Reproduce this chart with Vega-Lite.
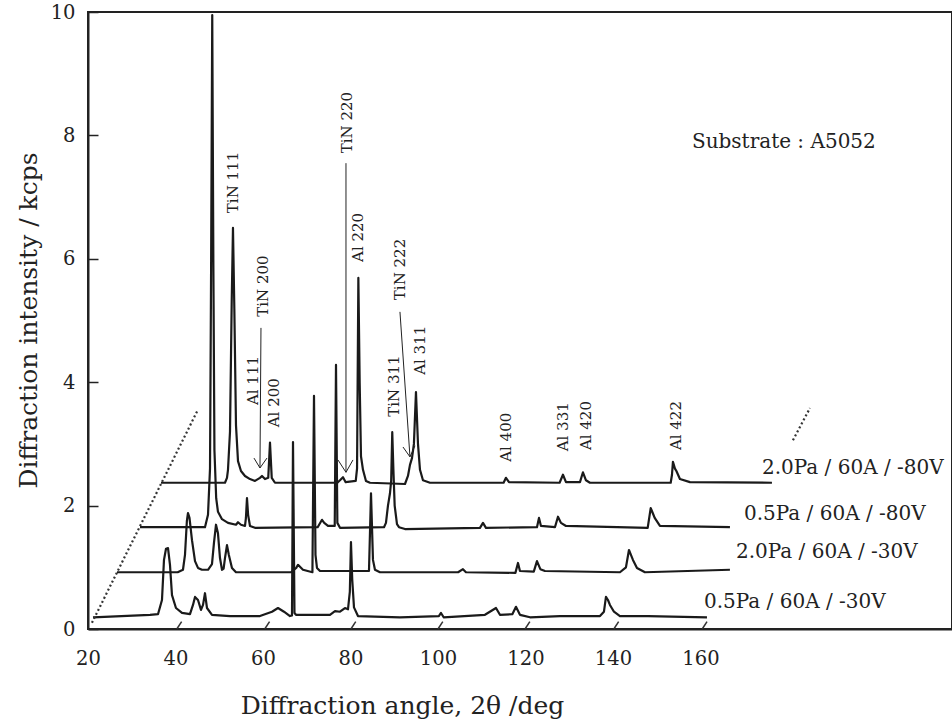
{
  "$schema": "https://vega.github.io/schema/vega-lite/v6.json",
  "width": 864,
  "height": 617,
  "autosize": {"type": "none"},
  "padding": {"left": 88, "top": 12, "right": 0, "bottom": 95},
  "background": "white",
  "config": {
    "view": {"stroke": "#222", "strokeWidth": 2},
    "axis": {"grid": false}
  },
  "datasets": {
    "traces": [
      {"s":"0.5Pa / 60A / -30V","a":21.14,"i":0.19},{"s":"0.5Pa / 60A / -30V","a":34.17,"i":0.23},{"s":"0.5Pa / 60A / -30V","a":36.0,"i":0.24},{"s":"0.5Pa / 60A / -30V","a":36.91,"i":0.47},{"s":"0.5Pa / 60A / -30V","a":37.37,"i":1.12},{"s":"0.5Pa / 60A / -30V","a":37.83,"i":1.3},{"s":"0.5Pa / 60A / -30V","a":38.29,"i":1.31},{"s":"0.5Pa / 60A / -30V","a":38.74,"i":1.04},{"s":"0.5Pa / 60A / -30V","a":39.2,"i":0.55},{"s":"0.5Pa / 60A / -30V","a":40.11,"i":0.34},{"s":"0.5Pa / 60A / -30V","a":41.49,"i":0.26},{"s":"0.5Pa / 60A / -30V","a":43.31,"i":0.24},{"s":"0.5Pa / 60A / -30V","a":44.0,"i":0.39},{"s":"0.5Pa / 60A / -30V","a":44.46,"i":0.52},{"s":"0.5Pa / 60A / -30V","a":45.14,"i":0.47},{"s":"0.5Pa / 60A / -30V","a":45.83,"i":0.31},{"s":"0.5Pa / 60A / -30V","a":46.29,"i":0.39},{"s":"0.5Pa / 60A / -30V","a":46.74,"i":0.58},{"s":"0.5Pa / 60A / -30V","a":47.2,"i":0.34},{"s":"0.5Pa / 60A / -30V","a":48.34,"i":0.23},{"s":"0.5Pa / 60A / -30V","a":52.46,"i":0.21},{"s":"0.5Pa / 60A / -30V","a":59.31,"i":0.21},{"s":"0.5Pa / 60A / -30V","a":62.06,"i":0.28},{"s":"0.5Pa / 60A / -30V","a":63.43,"i":0.34},{"s":"0.5Pa / 60A / -30V","a":64.8,"i":0.28},{"s":"0.5Pa / 60A / -30V","a":66.17,"i":0.21},{"s":"0.5Pa / 60A / -30V","a":66.63,"i":0.22},{"s":"0.5Pa / 60A / -30V","a":66.86,"i":3.03},{"s":"0.5Pa / 60A / -30V","a":67.2,"i":0.26},{"s":"0.5Pa / 60A / -30V","a":67.54,"i":0.23},{"s":"0.5Pa / 60A / -30V","a":75.31,"i":0.23},{"s":"0.5Pa / 60A / -30V","a":76.46,"i":0.29},{"s":"0.5Pa / 60A / -30V","a":77.6,"i":0.28},{"s":"0.5Pa / 60A / -30V","a":78.74,"i":0.34},{"s":"0.5Pa / 60A / -30V","a":79.43,"i":0.32},{"s":"0.5Pa / 60A / -30V","a":79.85,"i":0.6},{"s":"0.5Pa / 60A / -30V","a":80.11,"i":1.41},{"s":"0.5Pa / 60A / -30V","a":80.4,"i":0.8},{"s":"0.5Pa / 60A / -30V","a":80.8,"i":0.35},{"s":"0.5Pa / 60A / -30V","a":81.71,"i":0.21},{"s":"0.5Pa / 60A / -30V","a":91.31,"i":0.19},{"s":"0.5Pa / 60A / -30V","a":100.2,"i":0.21},{"s":"0.5Pa / 60A / -30V","a":100.69,"i":0.26},{"s":"0.5Pa / 60A / -30V","a":101.3,"i":0.19},{"s":"0.5Pa / 60A / -30V","a":110.74,"i":0.23},{"s":"0.5Pa / 60A / -30V","a":113.26,"i":0.34},{"s":"0.5Pa / 60A / -30V","a":114.17,"i":0.23},{"s":"0.5Pa / 60A / -30V","a":117.0,"i":0.24},{"s":"0.5Pa / 60A / -30V","a":117.83,"i":0.36},{"s":"0.5Pa / 60A / -30V","a":118.74,"i":0.23},{"s":"0.5Pa / 60A / -30V","a":121.03,"i":0.19},{"s":"0.5Pa / 60A / -30V","a":127.89,"i":0.21},{"s":"0.5Pa / 60A / -30V","a":137.03,"i":0.21},{"s":"0.5Pa / 60A / -30V","a":137.94,"i":0.28},{"s":"0.5Pa / 60A / -30V","a":138.4,"i":0.52},{"s":"0.5Pa / 60A / -30V","a":138.86,"i":0.47},{"s":"0.5Pa / 60A / -30V","a":139.31,"i":0.39},{"s":"0.5Pa / 60A / -30V","a":140.23,"i":0.28},{"s":"0.5Pa / 60A / -30V","a":141.6,"i":0.21},{"s":"0.5Pa / 60A / -30V","a":148.0,"i":0.21},{"s":"0.5Pa / 60A / -30V","a":161.49,"i":0.19},

      {"s":"2.0Pa / 60A / -30V","a":26.63,"i":0.92},{"s":"2.0Pa / 60A / -30V","a":40.5,"i":0.92},{"s":"2.0Pa / 60A / -30V","a":41.71,"i":0.96},{"s":"2.0Pa / 60A / -30V","a":42.17,"i":1.2},{"s":"2.0Pa / 60A / -30V","a":42.6,"i":1.75},{"s":"2.0Pa / 60A / -30V","a":42.86,"i":1.88},{"s":"2.0Pa / 60A / -30V","a":43.2,"i":1.8},{"s":"2.0Pa / 60A / -30V","a":43.77,"i":1.44},{"s":"2.0Pa / 60A / -30V","a":44.46,"i":1.1},{"s":"2.0Pa / 60A / -30V","a":45.14,"i":0.99},{"s":"2.0Pa / 60A / -30V","a":46.06,"i":0.96},{"s":"2.0Pa / 60A / -30V","a":47.43,"i":0.96},{"s":"2.0Pa / 60A / -30V","a":48.34,"i":1.05},{"s":"2.0Pa / 60A / -30V","a":48.8,"i":1.4},{"s":"2.0Pa / 60A / -30V","a":49.26,"i":1.69},{"s":"2.0Pa / 60A / -30V","a":49.71,"i":1.55},{"s":"2.0Pa / 60A / -30V","a":50.17,"i":1.15},{"s":"2.0Pa / 60A / -30V","a":50.63,"i":0.96},{"s":"2.0Pa / 60A / -30V","a":51.0,"i":0.98},{"s":"2.0Pa / 60A / -30V","a":51.31,"i":1.15},{"s":"2.0Pa / 60A / -30V","a":51.77,"i":1.36},{"s":"2.0Pa / 60A / -30V","a":52.2,"i":1.2},{"s":"2.0Pa / 60A / -30V","a":52.91,"i":0.99},{"s":"2.0Pa / 60A / -30V","a":53.83,"i":0.92},{"s":"2.0Pa / 60A / -30V","a":66.4,"i":0.92},{"s":"2.0Pa / 60A / -30V","a":67.6,"i":0.99},{"s":"2.0Pa / 60A / -30V","a":68.0,"i":1.04},{"s":"2.0Pa / 60A / -30V","a":69.14,"i":0.96},{"s":"2.0Pa / 60A / -30V","a":71.3,"i":0.92},{"s":"2.0Pa / 60A / -30V","a":71.66,"i":3.78},{"s":"2.0Pa / 60A / -30V","a":72.0,"i":1.2},{"s":"2.0Pa / 60A / -30V","a":72.34,"i":0.99},{"s":"2.0Pa / 60A / -30V","a":73.03,"i":0.94},{"s":"2.0Pa / 60A / -30V","a":84.23,"i":0.94},{"s":"2.0Pa / 60A / -30V","a":84.69,"i":2.2},{"s":"2.0Pa / 60A / -30V","a":85.14,"i":1.12},{"s":"2.0Pa / 60A / -30V","a":85.6,"i":0.96},{"s":"2.0Pa / 60A / -30V","a":86.74,"i":0.92},{"s":"2.0Pa / 60A / -30V","a":104.6,"i":0.92},{"s":"2.0Pa / 60A / -30V","a":105.71,"i":0.97},{"s":"2.0Pa / 60A / -30V","a":106.4,"i":0.92},{"s":"2.0Pa / 60A / -30V","a":117.7,"i":0.91},{"s":"2.0Pa / 60A / -30V","a":118.29,"i":1.07},{"s":"2.0Pa / 60A / -30V","a":118.74,"i":0.94},{"s":"2.0Pa / 60A / -30V","a":121.9,"i":0.93},{"s":"2.0Pa / 60A / -30V","a":122.63,"i":1.1},{"s":"2.0Pa / 60A / -30V","a":123.4,"i":0.97},{"s":"2.0Pa / 60A / -30V","a":124.46,"i":0.94},{"s":"2.0Pa / 60A / -30V","a":141.6,"i":0.92},{"s":"2.0Pa / 60A / -30V","a":142.97,"i":1.0},{"s":"2.0Pa / 60A / -30V","a":143.66,"i":1.28},{"s":"2.0Pa / 60A / -30V","a":144.11,"i":1.2},{"s":"2.0Pa / 60A / -30V","a":144.57,"i":1.12},{"s":"2.0Pa / 60A / -30V","a":145.49,"i":0.99},{"s":"2.0Pa / 60A / -30V","a":147.31,"i":0.92},{"s":"2.0Pa / 60A / -30V","a":166.74,"i":0.96},

      {"s":"0.5Pa / 60A / -80V","a":31.89,"i":1.65},{"s":"0.5Pa / 60A / -80V","a":46.74,"i":1.65},{"s":"0.5Pa / 60A / -80V","a":47.43,"i":1.85},{"s":"0.5Pa / 60A / -80V","a":47.89,"i":2.6},{"s":"0.5Pa / 60A / -80V","a":48.15,"i":6.0},{"s":"0.5Pa / 60A / -80V","a":48.4,"i":9.95},{"s":"0.5Pa / 60A / -80V","a":48.65,"i":6.0},{"s":"0.5Pa / 60A / -80V","a":48.9,"i":2.9},{"s":"0.5Pa / 60A / -80V","a":49.3,"i":2.12},{"s":"0.5Pa / 60A / -80V","a":49.71,"i":1.9},{"s":"0.5Pa / 60A / -80V","a":50.63,"i":1.78},{"s":"0.5Pa / 60A / -80V","a":52.0,"i":1.72},{"s":"0.5Pa / 60A / -80V","a":53.83,"i":1.69},{"s":"0.5Pa / 60A / -80V","a":54.29,"i":1.73},{"s":"0.5Pa / 60A / -80V","a":54.97,"i":1.69},{"s":"0.5Pa / 60A / -80V","a":55.89,"i":1.67},{"s":"0.5Pa / 60A / -80V","a":56.1,"i":1.8},{"s":"0.5Pa / 60A / -80V","a":56.34,"i":2.12},{"s":"0.5Pa / 60A / -80V","a":56.6,"i":1.85},{"s":"0.5Pa / 60A / -80V","a":57.03,"i":1.67},{"s":"0.5Pa / 60A / -80V","a":58.17,"i":1.64},{"s":"0.5Pa / 60A / -80V","a":72.5,"i":1.65},{"s":"0.5Pa / 60A / -80V","a":73.49,"i":1.77},{"s":"0.5Pa / 60A / -80V","a":74.0,"i":1.72},{"s":"0.5Pa / 60A / -80V","a":74.86,"i":1.67},{"s":"0.5Pa / 60A / -80V","a":76.4,"i":1.67},{"s":"0.5Pa / 60A / -80V","a":76.69,"i":4.28},{"s":"0.5Pa / 60A / -80V","a":77.0,"i":1.72},{"s":"0.5Pa / 60A / -80V","a":77.6,"i":1.64},{"s":"0.5Pa / 60A / -80V","a":87.66,"i":1.65},{"s":"0.5Pa / 60A / -80V","a":88.11,"i":1.72},{"s":"0.5Pa / 60A / -80V","a":88.57,"i":2.0},{"s":"0.5Pa / 60A / -80V","a":89.03,"i":2.2},{"s":"0.5Pa / 60A / -80V","a":89.3,"i":2.4},{"s":"0.5Pa / 60A / -80V","a":89.55,"i":3.19},{"s":"0.5Pa / 60A / -80V","a":89.8,"i":2.6},{"s":"0.5Pa / 60A / -80V","a":90.1,"i":2.0},{"s":"0.5Pa / 60A / -80V","a":90.63,"i":1.7},{"s":"0.5Pa / 60A / -80V","a":91.09,"i":1.65},{"s":"0.5Pa / 60A / -80V","a":92.46,"i":1.62},{"s":"0.5Pa / 60A / -80V","a":109.6,"i":1.64},{"s":"0.5Pa / 60A / -80V","a":110.29,"i":1.72},{"s":"0.5Pa / 60A / -80V","a":110.97,"i":1.64},{"s":"0.5Pa / 60A / -80V","a":122.63,"i":1.65},{"s":"0.5Pa / 60A / -80V","a":123.09,"i":1.8},{"s":"0.5Pa / 60A / -80V","a":123.54,"i":1.67},{"s":"0.5Pa / 60A / -80V","a":126.74,"i":1.65},{"s":"0.5Pa / 60A / -80V","a":127.43,"i":1.82},{"s":"0.5Pa / 60A / -80V","a":128.11,"i":1.72},{"s":"0.5Pa / 60A / -80V","a":129.26,"i":1.67},{"s":"0.5Pa / 60A / -80V","a":147.94,"i":1.64},{"s":"0.5Pa / 60A / -80V","a":148.63,"i":1.96},{"s":"0.5Pa / 60A / -80V","a":149.09,"i":1.88},{"s":"0.5Pa / 60A / -80V","a":149.54,"i":1.8},{"s":"0.5Pa / 60A / -80V","a":150.74,"i":1.67},{"s":"0.5Pa / 60A / -80V","a":166.74,"i":1.65},

      {"s":"2.0Pa / 60A / -80V","a":36.69,"i":2.37},{"s":"2.0Pa / 60A / -80V","a":51.31,"i":2.37},{"s":"2.0Pa / 60A / -80V","a":51.77,"i":2.45},{"s":"2.0Pa / 60A / -80V","a":52.0,"i":2.58},{"s":"2.0Pa / 60A / -80V","a":52.46,"i":3.2},{"s":"2.0Pa / 60A / -80V","a":52.85,"i":5.3},{"s":"2.0Pa / 60A / -80V","a":53.14,"i":6.5},{"s":"2.0Pa / 60A / -80V","a":53.45,"i":5.2},{"s":"2.0Pa / 60A / -80V","a":53.83,"i":3.3},{"s":"2.0Pa / 60A / -80V","a":54.29,"i":2.72},{"s":"2.0Pa / 60A / -80V","a":54.97,"i":2.56},{"s":"2.0Pa / 60A / -80V","a":55.89,"i":2.48},{"s":"2.0Pa / 60A / -80V","a":57.03,"i":2.43},{"s":"2.0Pa / 60A / -80V","a":58.17,"i":2.4},{"s":"2.0Pa / 60A / -80V","a":59.31,"i":2.45},{"s":"2.0Pa / 60A / -80V","a":59.77,"i":2.48},{"s":"2.0Pa / 60A / -80V","a":60.46,"i":2.43},{"s":"2.0Pa / 60A / -80V","a":61.2,"i":2.45},{"s":"2.0Pa / 60A / -80V","a":61.6,"i":3.02},{"s":"2.0Pa / 60A / -80V","a":62.0,"i":2.45},{"s":"2.0Pa / 60A / -80V","a":62.74,"i":2.37},{"s":"2.0Pa / 60A / -80V","a":77.0,"i":2.37},{"s":"2.0Pa / 60A / -80V","a":77.6,"i":2.41},{"s":"2.0Pa / 60A / -80V","a":78.29,"i":2.46},{"s":"2.0Pa / 60A / -80V","a":78.9,"i":2.38},{"s":"2.0Pa / 60A / -80V","a":81.2,"i":2.4},{"s":"2.0Pa / 60A / -80V","a":81.5,"i":2.6},{"s":"2.0Pa / 60A / -80V","a":81.8,"i":5.69},{"s":"2.0Pa / 60A / -80V","a":82.1,"i":4.0},{"s":"2.0Pa / 60A / -80V","a":82.4,"i":2.8},{"s":"2.0Pa / 60A / -80V","a":82.86,"i":2.58},{"s":"2.0Pa / 60A / -80V","a":83.54,"i":2.4},{"s":"2.0Pa / 60A / -80V","a":84.46,"i":2.37},{"s":"2.0Pa / 60A / -80V","a":92.46,"i":2.35},{"s":"2.0Pa / 60A / -80V","a":93.14,"i":2.48},{"s":"2.0Pa / 60A / -80V","a":93.6,"i":2.66},{"s":"2.0Pa / 60A / -80V","a":94.06,"i":2.77},{"s":"2.0Pa / 60A / -80V","a":94.5,"i":3.0},{"s":"2.0Pa / 60A / -80V","a":94.97,"i":3.84},{"s":"2.0Pa / 60A / -80V","a":95.43,"i":3.0},{"s":"2.0Pa / 60A / -80V","a":95.89,"i":2.58},{"s":"2.0Pa / 60A / -80V","a":96.57,"i":2.41},{"s":"2.0Pa / 60A / -80V","a":98.17,"i":2.37},{"s":"2.0Pa / 60A / -80V","a":115.0,"i":2.37},{"s":"2.0Pa / 60A / -80V","a":115.54,"i":2.45},{"s":"2.0Pa / 60A / -80V","a":116.23,"i":2.38},{"s":"2.0Pa / 60A / -80V","a":127.8,"i":2.37},{"s":"2.0Pa / 60A / -80V","a":128.57,"i":2.5},{"s":"2.0Pa / 60A / -80V","a":129.26,"i":2.38},{"s":"2.0Pa / 60A / -80V","a":132.46,"i":2.38},{"s":"2.0Pa / 60A / -80V","a":133.14,"i":2.54},{"s":"2.0Pa / 60A / -80V","a":133.83,"i":2.41},{"s":"2.0Pa / 60A / -80V","a":134.74,"i":2.37},{"s":"2.0Pa / 60A / -80V","a":153.2,"i":2.37},{"s":"2.0Pa / 60A / -80V","a":153.49,"i":2.5},{"s":"2.0Pa / 60A / -80V","a":153.71,"i":2.71},{"s":"2.0Pa / 60A / -80V","a":154.17,"i":2.6},{"s":"2.0Pa / 60A / -80V","a":154.5,"i":2.56},{"s":"2.0Pa / 60A / -80V","a":155.31,"i":2.43},{"s":"2.0Pa / 60A / -80V","a":157.6,"i":2.38},{"s":"2.0Pa / 60A / -80V","a":176.34,"i":2.37}
    ],
    "dots": [
      {"a":20.9,"i":0.1,"a2":45.1,"i2":3.55},
      {"a":181.14,"i":3.06,"a2":185.03,"i2":3.58}
    ],
    "sticks": [
      {"a":40.3,"i":0.0,"a2":41.4,"i2":0.12},
      {"a":60.4,"i":0.0,"a2":61.5,"i2":0.12},
      {"a":80.1,"i":0.0,"a2":81.2,"i2":0.12},
      {"a":100.0,"i":0.0,"a2":101.1,"i2":0.12},
      {"a":119.9,"i":0.0,"a2":121.0,"i2":0.12},
      {"a":140.2,"i":0.0,"a2":141.3,"i2":0.12},
      {"a":160.4,"i":0.0,"a2":161.5,"i2":0.12}
    ],
    "leads": [
      {"a":59.54,"i":4.88,"a2":59.31,"i2":2.61},
      {"a":57.94,"i":2.77,"a2":59.31,"i2":2.61},
      {"a":60.91,"i":2.77,"a2":59.31,"i2":2.61},
      {"a":78.97,"i":7.55,"a2":78.97,"i2":2.54},
      {"a":77.14,"i":2.74,"a2":78.97,"i2":2.54},
      {"a":80.57,"i":2.74,"a2":78.97,"i2":2.54},
      {"a":91.31,"i":5.14,"a2":93.6,"i2":2.79},
      {"a":92.0,"i":2.95,"a2":93.6,"i2":2.79},
      {"a":94.74,"i":2.97,"a2":93.6,"i2":2.79}
    ],
    "ann": [
      {"l":"TiN 111","a":53.14,"i":6.74},
      {"l":"TiN 200","a":60.0,"i":5.06},
      {"l":"Al 111","a":57.71,"i":3.63},
      {"l":"Al 200","a":62.51,"i":3.27},
      {"l":"TiN 220","a":79.2,"i":7.71},
      {"l":"Al 220","a":81.71,"i":5.95},
      {"l":"TiN 311","a":89.94,"i":3.44},
      {"l":"TiN 222","a":91.31,"i":5.33},
      {"l":"Al 311","a":95.89,"i":4.12},
      {"l":"Al 400","a":115.54,"i":2.71},
      {"l":"Al 331","a":128.57,"i":2.88},
      {"l":"Al 420","a":133.83,"i":2.9},
      {"l":"Al 422","a":154.4,"i":2.9}
    ],
    "labs": [
      {"l":"2.0Pa / 60A / -80V","a":174.06,"i":2.61},
      {"l":"0.5Pa / 60A / -80V","a":169.94,"i":1.86},
      {"l":"2.0Pa / 60A / -30V","a":168.11,"i":1.25},
      {"l":"0.5Pa / 60A / -30V","a":160.8,"i":0.44},
      {"l":"Substrate : A5052","a":158.06,"i":7.89}
    ]
  },
  "encoding": {
    "x": {
      "field": "a", "type": "quantitative",
      "scale": {"domain": [20, 217.5], "nice": false, "zero": false},
      "axis": {
        "title": "Diffraction angle, 2θ /deg",
        "values": [20, 40, 60, 80, 100, 120, 140, 160],
        "ticks": false, "tickSize": 0,
        "labelFlush": false,
        "labelPadding": 20,
        "labelFont": "DejaVu Serif", "labelFontSize": 19.5, "labelColor": "#222",
        "domainColor": "#222", "domainWidth": 2,
        "titleFont": "DejaVu Serif", "titleFontSize": 25, "titleFontWeight": "normal", "titleColor": "#222",
        "titleX": 314, "titleY": 84, "titleAlign": "center", "titleBaseline": "alphabetic"
      }
    },
    "y": {
      "field": "i", "type": "quantitative",
      "scale": {"domain": [0, 10], "nice": false},
      "axis": {
        "title": "Diffraction intensity / kcps",
        "values": [0, 2, 4, 6, 8, 10],
        "tickSize": -10, "tickWidth": 1.5, "tickColor": "#222",
        "labelPadding": 23,
        "labelFont": "DejaVu Serif", "labelFontSize": 19.5, "labelColor": "#222",
        "domainColor": "#222", "domainWidth": 2,
        "titleFont": "DejaVu Serif", "titleFontSize": 25, "titleFontWeight": "normal", "titleColor": "#222",
        "titleX": -60, "titleY": 308, "titleAlign": "center", "titleBaseline": "middle", "titleAngle": 270
      }
    }
  },
  "layer": [
    {
      "data": {"name": "traces"},
      "mark": {"type": "line", "color": "#1a1a1a", "strokeWidth": 2.2, "strokeJoin": "round"},
      "encoding": {"detail": {"field": "s"}}
    },
    {
      "data": {"name": "dots"},
      "mark": {"type": "rule", "color": "#333", "strokeWidth": 2.2, "strokeDash": [2, 2.5]},
      "encoding": {"x2": {"field": "a2"}, "y2": {"field": "i2"}}
    },
    {
      "data": {"name": "sticks"},
      "mark": {"type": "rule", "color": "#333", "strokeWidth": 1.5},
      "encoding": {"x2": {"field": "a2"}, "y2": {"field": "i2"}}
    },
    {
      "data": {"name": "leads"},
      "mark": {"type": "rule", "color": "#222", "strokeWidth": 1},
      "encoding": {"x2": {"field": "a2"}, "y2": {"field": "i2"}}
    },
    {
      "data": {"name": "ann"},
      "mark": {"type": "text", "angle": 270, "align": "left", "baseline": "middle", "font": "DejaVu Serif", "fontSize": 15, "color": "#222"},
      "encoding": {"text": {"field": "l"}}
    },
    {
      "data": {"name": "labs"},
      "mark": {"type": "text", "align": "left", "baseline": "middle", "font": "DejaVu Serif", "fontSize": 20, "color": "#222"},
      "encoding": {"text": {"field": "l"}}
    }
  ]
}
